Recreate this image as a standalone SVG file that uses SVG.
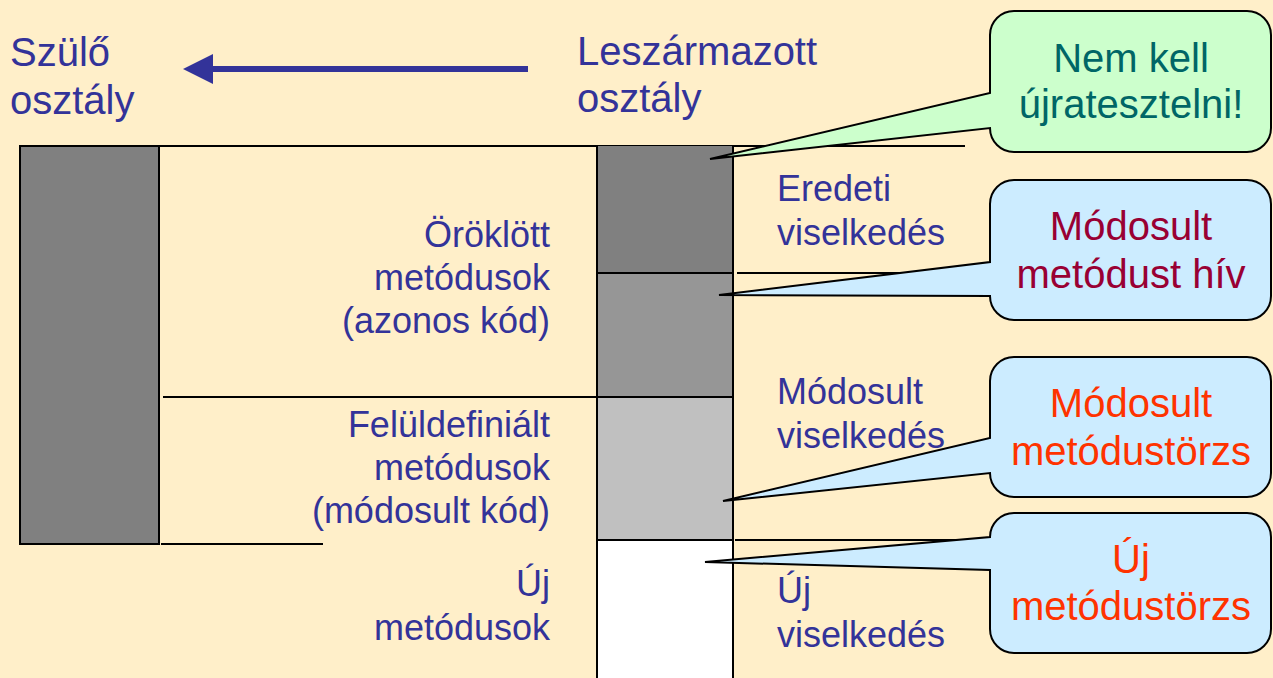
<svg xmlns="http://www.w3.org/2000/svg" width="1273" height="678" viewBox="0 0 1273 678">
  <defs>
    <style>
      text { font-family: "Liberation Sans", Arial, sans-serif; }
      .head { font-size: 40px; fill: #333399; }
      .lbl { font-size: 36px; fill: #333399; }
      .end { text-anchor: end; }
      .mid { text-anchor: middle; font-size: 40px; }
      .rule { stroke: #000; stroke-width: 2; fill: none; }
      .box { stroke: #000; stroke-width: 2; }
      .callout { stroke: #000; stroke-width: 2; stroke-linejoin: miter; }
      .green { fill: #CCFFCC; }
      .blue { fill: #CCECFF; }
    </style>
  </defs>

  <rect width="1273" height="678" fill="#FFEFC9"/>

  <!-- headings and inheritance arrow -->
  <g id="parent-title">
    <text class="head" x="10" y="66">Szülő</text>
    <text class="head" x="10" y="114">osztály</text>
  </g>
  <g id="child-title">
    <text class="head" x="577" y="65">Leszármazott</text>
    <text class="head" x="577" y="112">osztály</text>
  </g>

  <g id="connectors">
    <line x1="528" y1="69" x2="208" y2="69" stroke="#333399" stroke-width="6"/>
    <polygon points="183,69 213,54 213,84" fill="#333399"/>
    <!-- section rules -->
    <line class="rule" x1="159" y1="146" x2="965" y2="146"/>
    <line class="rule" x1="163" y1="397" x2="597" y2="397"/>
    <line class="rule" x1="161" y1="544" x2="323" y2="544"/>
    <line class="rule" x1="737" y1="273" x2="990" y2="273"/>
    <line class="rule" x1="735" y1="540" x2="990" y2="540"/>
  </g>

  <!-- parent class bar -->
  <g id="parent-bar">
    <rect class="box" x="20" y="146" width="139" height="398" fill="#808080"/>
  </g>

  <!-- derived class column -->
  <g id="child-column">
    <rect x="597" y="146" width="136" height="127" fill="#808080"/>
    <rect x="597" y="273" width="136" height="124" fill="#969696"/>
    <rect x="597" y="397" width="136" height="143" fill="#C0C0C0"/>
    <rect x="597" y="540" width="136" height="140" fill="#FFFFFF"/>
    <line class="rule" x1="597" y1="146" x2="597" y2="680"/>
    <line class="rule" x1="733" y1="146" x2="733" y2="680"/>
    <line class="rule" x1="597" y1="273" x2="733" y2="273"/>
    <line class="rule" x1="597" y1="397" x2="733" y2="397"/>
    <line class="rule" x1="597" y1="540" x2="733" y2="540"/>
  </g>

  <!-- left side labels -->
  <g id="inherited-label">
    <text class="lbl end" x="550" y="247">Öröklött</text>
    <text class="lbl end" x="550" y="290">metódusok</text>
    <text class="lbl end" x="550" y="333">(azonos kód)</text>
  </g>
  <g id="overridden-label">
    <text class="lbl end" x="550" y="437">Felüldefiniált</text>
    <text class="lbl end" x="550" y="480">metódusok</text>
    <text class="lbl end" x="550" y="523">(módosult kód)</text>
  </g>
  <g id="new-label">
    <text class="lbl end" x="550" y="596">Új</text>
    <text class="lbl end" x="550" y="640">metódusok</text>
  </g>

  <!-- right side labels -->
  <g id="original-behaviour">
    <text class="lbl" x="777" y="201">Eredeti</text>
    <text class="lbl" x="777" y="245">viselkedés</text>
  </g>
  <g id="modified-behaviour">
    <text class="lbl" x="777" y="404">Módosult</text>
    <text class="lbl" x="777" y="448">viselkedés</text>
  </g>
  <g id="new-behaviour">
    <text class="lbl" x="777" y="603">Új</text>
    <text class="lbl" x="777" y="647">viselkedés</text>
  </g>

  <!-- callouts -->
  <g id="callout-no-retest">
    <path class="callout green" d="M1014 11 H1247 A24 24 0 0 1 1271 35 V128 A24 24 0 0 1 1247 152 H1014 A24 24 0 0 1 990 128 L710 159 L990 93 V35 A24 24 0 0 1 1014 11 Z"/>
    <text class="mid" x="1131" y="72" fill="#006666">Nem kell</text>
    <text class="mid" x="1131" y="118" fill="#006666">újratesztelni!</text>
  </g>
  <g id="callout-calls-modified">
    <path class="callout blue" d="M1014 180 H1247 A24 24 0 0 1 1271 204 V296 A24 24 0 0 1 1247 320 H1014 A24 24 0 0 1 990 296 L719 295 L990 262 V204 A24 24 0 0 1 1014 180 Z"/>
    <text class="mid" x="1131" y="240" fill="#990033">Módosult</text>
    <text class="mid" x="1131" y="288" fill="#990033">metódust hív</text>
  </g>
  <g id="callout-modified-body">
    <path class="callout blue" d="M1014 357 H1247 A24 24 0 0 1 1271 381 V473 A24 24 0 0 1 1247 497 H1014 A24 24 0 0 1 990 473 L723 501 L990 438 V381 A24 24 0 0 1 1014 357 Z"/>
    <text class="mid" x="1131" y="417" fill="#FF3300">Módosult</text>
    <text class="mid" x="1131" y="465" fill="#FF3300">metódustörzs</text>
  </g>
  <g id="callout-new-body">
    <path class="callout blue" d="M1014 513 H1247 A24 24 0 0 1 1271 537 V629 A24 24 0 0 1 1247 653 H1014 A24 24 0 0 1 990 629 V570 L705 562 L990 537 A24 24 0 0 1 1014 513 Z"/>
    <text class="mid" x="1131" y="573" fill="#FF3300">Új</text>
    <text class="mid" x="1131" y="620" fill="#FF3300">metódustörzs</text>
  </g>
</svg>
